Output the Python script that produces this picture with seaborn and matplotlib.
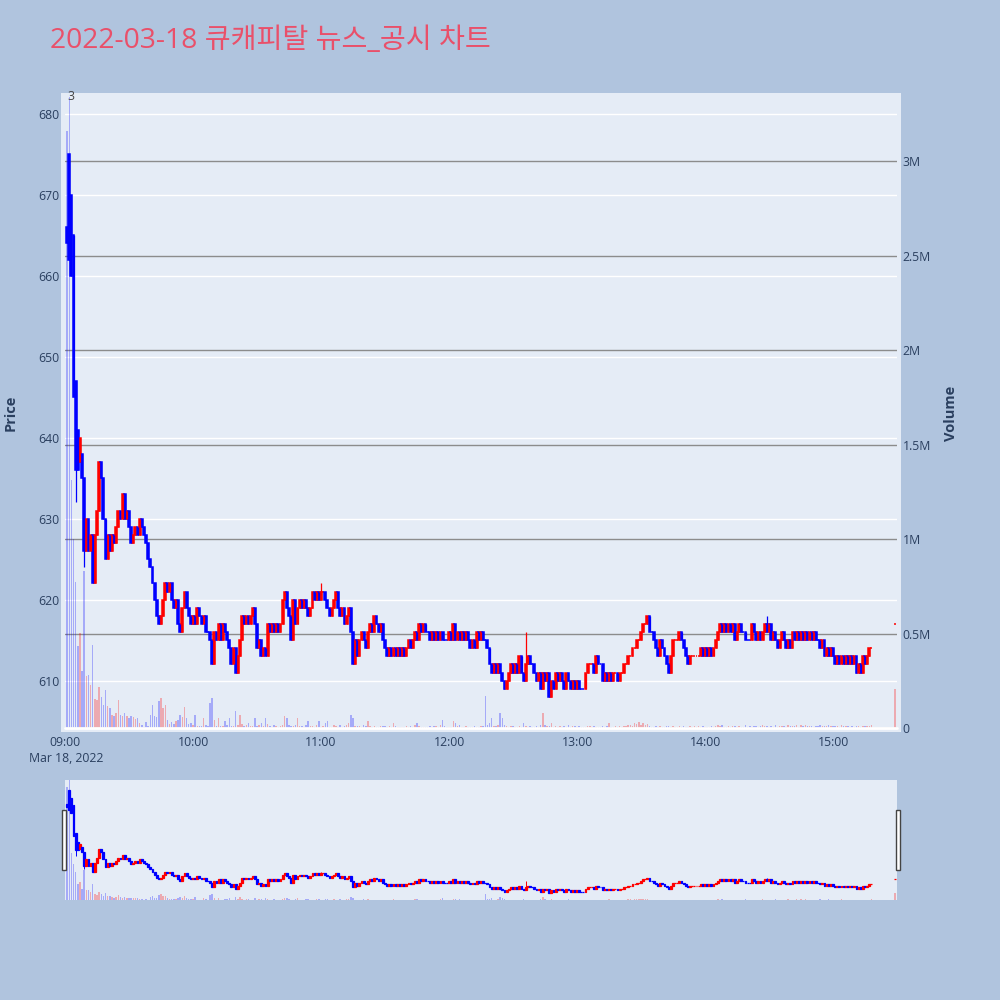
import numpy as np
import pandas as pd
import matplotlib
matplotlib.use("Agg")
import matplotlib.pyplot as plt
from matplotlib.patches import Rectangle
import seaborn as sns

title = "2022-03-18 큐캐피탈 뉴스_공시 차트"
trade_date = "2022-03-18"
first_bar = "09:01"

# 1-minute closes, 09:01 .. 15:18
close = [
    664, 662, 660, 645, 636, 636, 640, 635, 626, 630,
    626, 628, 622, 628, 631, 637, 635, 630, 625, 628,
    626, 628, 627, 629, 631, 630, 633, 630, 631, 629,
    627, 628, 629, 628, 630, 629, 628, 627, 625, 624,
    622, 620, 618, 617, 618, 620, 622, 621, 622, 620,
    619, 620, 617, 616, 619, 621, 619, 618, 617, 618,
    617, 619, 618, 617, 618, 616, 616, 615, 612, 616,
    615, 617, 615, 617, 616, 615, 614, 612, 614, 611,
    613, 615, 618, 617, 618, 617, 618, 619, 617, 614,
    615, 613, 614, 613, 617, 616, 617, 616, 617, 616,
    617, 620, 621, 619, 618, 615, 620, 617, 619, 620,
    619, 620, 619, 618, 619, 621, 620, 621, 620, 621,
    621, 620, 619, 618, 619, 620, 621, 619, 618, 619,
    617, 618, 619, 616, 612, 615, 613, 615, 616, 615,
    614, 616, 617, 616, 618, 617, 616, 617, 615, 614,
    613, 614, 613, 614, 613, 614, 613, 614, 613, 614,
    615, 614, 615, 616, 615, 617, 616, 617, 616, 616,
    615, 616, 615, 616, 615, 616, 615, 615, 615, 616,
    615, 617, 615, 616, 615, 616, 615, 616, 615, 614,
    615, 614, 616, 615, 616, 615, 615, 614, 612, 611,
    612, 611, 612, 611, 610, 609, 610, 611, 612, 611,
    612, 611, 613, 611, 610, 612, 613, 612, 612, 611,
    610, 611, 609, 611, 610, 611, 608, 610, 609, 611,
    610, 611, 610, 609, 611, 610, 609, 610, 609, 610,
    609, 609, 609, 611, 612, 612, 612, 611, 613, 612,
    612, 610, 611, 610, 611, 610, 611, 611, 610, 611,
    611, 612, 612, 613, 613, 614, 614, 615, 615, 616,
    617, 617, 618, 616, 616, 615, 614, 613, 615, 614,
    613, 612, 611, 613, 615, 615, 615, 616, 615, 614,
    613, 612, 613, 613, 613, 613, 613, 614, 613, 614,
    613, 614, 613, 614, 615, 616, 617, 616, 617, 616,
    617, 616, 617, 615, 616, 617, 616, 616, 615, 615,
    615, 617, 616, 615, 616, 615, 616, 617, 616, 617,
    615, 616, 615, 614, 615, 616, 615, 614, 615, 614,
    616, 615, 616, 615, 616, 615, 616, 615, 616, 615,
    616, 615, 615, 614, 615, 613, 614, 613, 614, 613,
    612, 613, 612, 613, 612, 613, 612, 613, 612, 613,
    611, 612, 611, 613, 612, 613, 614, 614,
]

# opening minutes whose open is not the previous close
open_fix = {1: 666, 2: 675, 3: 670, 4: 665, 5: 647, 6: 641, 7: 637, 8: 638}
wick_high = {2: 675, 120: 622, 216: 616, 329: 618}
wick_low = {5: 632, 9: 624}

# volume in thousand shares, 09:01 .. 15:18
volume_k = [
    3160, 3340, 1310, 1000, 770, 436, 503, 300, 830, 273,
    282, 229, 441, 155, 146, 217, 162, 123, 199, 115,
    106, 71, 65, 79, 150, 71, 62, 79, 62, 53,
    62, 58, 48, 53, 26, 18, 5, 30, 9, 71,
    123, 62, 58, 141, 159, 106, 123, 44, 23, 30,
    23, 35, 44, 71, 58, 111, 53, 23, 26, 18,
    70, 9, 12, 8, 53, 15, 10, 132, 158, 44,
    12, 53, 8, 10, 35, 14, 53, 9, 12, 88,
    15, 70, 20, 10, 18, 26, 12, 8, 53, 10,
    14, 26, 12, 53, 20, 9, 6, 18, 10, 7,
    12, 15, 62, 53, 18, 9, 12, 14, 53, 10,
    8, 6, 14, 35, 12, 8, 5, 18, 35, 6,
    9, 26, 35, 7, 5, 18, 8, 6, 18, 5,
    9, 14, 26, 70, 53, 12, 8, 10, 6, 14,
    9, 35, 12, 7, 10, 6, 5, 9, 8, 12,
    6, 8, 5, 26, 9, 6, 4, 7, 5, 8,
    6, 9, 5, 14, 26, 8, 5, 7, 6, 5,
    9, 6, 8, 12, 5, 14, 44, 9, 6, 5,
    7, 35, 26, 9, 18, 5, 6, 8, 5, 4,
    6, 9, 5, 7, 8, 12, 167, 14, 26, 53,
    12, 9, 18, 79, 53, 14, 9, 6, 8, 12,
    5, 7, 9, 6, 26, 8, 5, 12, 7, 6,
    9, 5, 14, 79, 18, 8, 12, 26, 6, 9,
    5, 12, 7, 9, 6, 14, 5, 8, 10, 6,
    9, 5, 7, 6, 12, 8, 5, 9, 6, 7,
    5, 8, 6, 9, 26, 7, 5, 8, 6, 9,
    7, 12, 9, 14, 18, 12, 26, 20, 30, 18,
    26, 14, 20, 9, 7, 5, 8, 6, 9, 7,
    5, 8, 12, 6, 9, 7, 5, 8, 6, 9,
    5, 7, 9, 6, 12, 5, 8, 6, 9, 5,
    7, 6, 9, 5, 12, 14, 9, 18, 7, 6,
    9, 5, 8, 12, 6, 9, 5, 7, 14, 6,
    8, 5, 9, 12, 6, 9, 14, 8, 12, 6,
    9, 7, 14, 6, 8, 12, 9, 5, 14, 8,
    12, 9, 14, 7, 18, 12, 14, 8, 12, 9,
    6, 9, 12, 14, 8, 12, 9, 14, 12, 8,
    9, 12, 7, 14, 9, 12, 8, 6, 9, 7,
    9, 12, 6, 9, 8, 12, 9, 14,
]

# closing auction
auction_time = "15:29"
auction_price = 617
auction_volume_k = 206

price_ticks = [610, 620, 630, 640, 650, 660, 670, 680]
volume_ticks = [0, 0.5e6, 1e6, 1.5e6, 2e6, 2.5e6, 3e6]
volume_labels = ["0", "0.5M", "1M", "1.5M", "2M", "2.5M", "3M"]
hour_labels = ["09:00", "10:00", "11:00", "12:00", "13:00", "14:00", "15:00"]

UP, DOWN = "#FF0000", "#0000FF"
TXT = "#2a3f5f"
PLOT_BG = "#E5ECF6"

# ---- frame ----
times = pd.date_range(f"{trade_date} {first_bar}", periods=len(close), freq="min")
times = times.append(pd.DatetimeIndex([f"{trade_date} {auction_time}"]))
session = pd.Timestamp(f"{trade_date} 09:00")
df = pd.DataFrame({"time": times,
                   "close": close + [auction_price],
                   "volume": [v * 1000 for v in volume_k + [auction_volume_k]]})
df["x"] = (df["time"] - session).dt.total_seconds() / 60

opens = []
for i, c in enumerate(df["close"]):
    m = int(df["x"][i])
    if m in open_fix:
        opens.append(open_fix[m])
    elif i == len(close):
        opens.append(auction_price)
    else:
        opens.append(df["close"][i - 1] if i > 0 else c)
df["open"] = opens
df["high"] = [max(o, c, wick_high.get(int(m), 0)) for o, c, m in zip(df.open, df.close, df.x)]
df["low"] = [min(o, c, wick_low.get(int(m), 10**6)) for o, c, m in zip(df.open, df.close, df.x)]

up, prev_up, prev_c = [], False, None
for o, c in zip(df.open, df.close):
    if c > o:
        u = True
    elif c < o:
        u = False
    elif prev_c is not None and c != prev_c:
        u = c > prev_c
    else:
        u = prev_up
    up.append(u)
    prev_up, prev_c = u, c
df["up"] = up
df["color"] = np.where(df["up"], UP, DOWN)
df["vcolor"] = [(1, 0, 0, 0.28) if u else (0, 0, 1, 0.28) for u in df["up"]]

# ---- style ----
sns.set_theme(style="darkgrid", rc={"axes.facecolor": PLOT_BG, "figure.facecolor": "#B0C4DE",
                                    "grid.color": "white", "axes.edgecolor": PLOT_BG})
plt.rcParams["font.family"] = ["Open Sans", "Noto Sans CJK KR", "DejaVu Sans"]

XLIM = (0, 390)
PRICE_LIM = (604.15, 682.2)
VOL_LIM = (0, 3.344e6)


def draw_candles(axis, body_lw, wick_lw):
    axis.vlines(df["x"], df["low"], df["high"], colors=df["color"], linewidth=wick_lw)
    axis.bar(df["x"], (df["close"] - df["open"]).abs(),
             bottom=df[["open", "close"]].min(axis=1), width=0.85,
             color=df["color"], edgecolor=df["color"], linewidth=body_lw)


fig = plt.figure(figsize=(10, 10), dpi=100)
fig.patches.append(Rectangle((0.061, 0.268), 0.840, 0.639, transform=fig.transFigure,
                             facecolor=PLOT_BG, edgecolor="none", zorder=-1))

ax = fig.add_axes([0.065, 0.272, 0.832, 0.632])
ax.set_xlim(*XLIM)
ax.set_ylim(*PRICE_LIM)
ax.set_yticks(price_ticks)
ax.grid(axis="y", color="white", linewidth=1)
ax.grid(axis="x", visible=False)
ax.set_xticks([h * 60 for h in range(len(hour_labels))])
ax.set_xticklabels(hour_labels)
ax.tick_params(axis="both", length=0, labelsize=8.8, labelcolor=TXT)
ax.tick_params(axis="y", pad=4)
ax.tick_params(axis="x", pad=6)
for s in ax.spines.values():
    s.set_visible(False)

ax2 = ax.twinx()
ax2.set_ylim(*VOL_LIM)
ax2.set_yticks(volume_ticks)
ax2.set_yticklabels(volume_labels)
ax2.grid(axis="y", color="#8c8c8c", linewidth=1)
ax2.grid(axis="x", visible=False)
ax2.tick_params(axis="y", length=0, labelsize=8.8, labelcolor=TXT, pad=4)
for s in ax2.spines.values():
    s.set_visible(False)
ax2.bar(df["x"], df["volume"], width=0.7, color=df["vcolor"], linewidth=0)
ax2.axhline(0, color="white", linewidth=2, clip_on=False)

ax3 = ax.twinx()
ax3.set_ylim(*PRICE_LIM)
ax3.set_axis_off()
draw_candles(ax3, 1.1, 0.9)

fig.text(0.0105, 0.587, "Price", rotation=90, ha="center", va="center",
         fontsize=10.5, fontweight="bold", color=TXT)
fig.text(0.951, 0.587, "Volume", rotation=90, ha="center", va="center",
         fontsize=10.5, fontweight="bold", color=TXT)
fig.text(0.066, 0.242, "Mar 18, 2022", ha="center", va="center", fontsize=8.8, color=TXT)
fig.text(0.0705, 0.9035, "3", ha="center", va="center", fontsize=8.8, color="#444444")
fig.text(0.05, 0.959, title, ha="left", va="center", fontsize=20.3, color="#E9506A")

# ---- range slider ----
axs = fig.add_axes([0.065, 0.100, 0.832, 0.120])
axs.set_xlim(*XLIM)
axs.set_ylim(*VOL_LIM)
axs.bar(df["x"], df["volume"], width=0.7, color=df["vcolor"], linewidth=0)
axs.grid(False)
axs.set_xticks([])
axs.set_yticks([])
for s in axs.spines.values():
    s.set_visible(False)
axs_p = axs.twinx()
axs_p.set_ylim(603.7, 681.5)
axs_p.set_axis_off()
draw_candles(axs_p, 0.9, 0.7)

for hx in (0.0615, 0.8955):
    fig.patches.append(Rectangle((hx, 0.130), 0.0045, 0.060, transform=fig.transFigure,
                                 facecolor="white", edgecolor="#444444", linewidth=1, zorder=5))

fig.savefig("out.png", dpi=100, facecolor=fig.get_facecolor())
